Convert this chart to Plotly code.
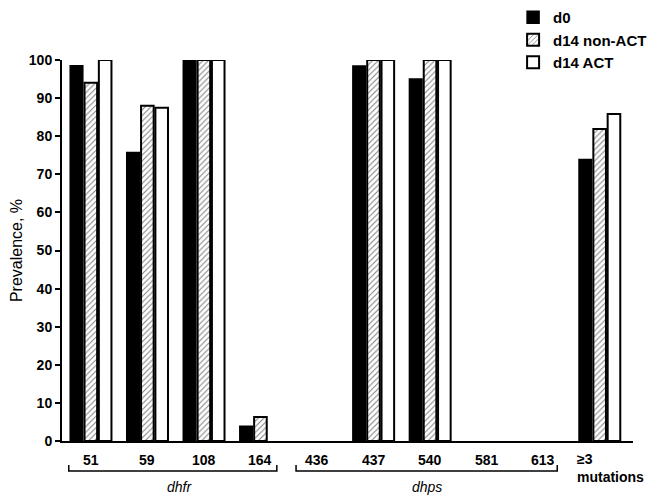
import plotly.graph_objects as go

categories = ["51", "59", "108", "164", "436", "437", "540", "581", "613", "≥3 mutations"]
tick_labels = ["51", "59", "108", "164", "436", "437", "540", "581", "613"]
d0 = [98.5, 75.7, 100, 3.9, 0, 98.4, 95.0, 0, 0, 73.9]
d14_non_act = [94.0, 88.0, 100, 6.3, 0, 100, 100, 0, 0, 81.9]
d14_act = [100, 87.5, 100, 0, 0, 100, 100, 0, 0, 85.8]

FONT = "Liberation Sans, Arial, sans-serif"
xs = list(range(len(categories)))


def outline(vals, w):
    # no outline on empty bars so they don't show up as flat lines
    return [w if v > 0 else 0 for v in vals]


fig = go.Figure()
fig.add_trace(go.Bar(
    x=xs, y=d0, name="<b>d0</b>",
    marker=dict(color="black", line=dict(color="black", width=outline(d0, 1.5))),
))
fig.add_trace(go.Bar(
    x=xs, y=d14_non_act, name="<b>d14 non-ACT</b>",
    marker=dict(color="white", line=dict(color="black", width=outline(d14_non_act, 2)),
                pattern=dict(shape="/", fgcolor="black", bgcolor="white", size=4, solidity=0.25)),
))
fig.add_trace(go.Bar(
    x=xs, y=d14_act, name="<b>d14 ACT</b>",
    marker=dict(color="white", line=dict(color="black", width=outline(d14_act, 2))),
))

# x labels under the axis
for i, t in enumerate(tick_labels):
    fig.add_annotation(x=i, y=-0.05, xref="x", yref="paper", text=f"<b>{t}</b>",
                       showarrow=False, yanchor="middle",
                       font=dict(family=FONT, size=14, color="black"))
fig.add_annotation(x=8.57, y=-0.072, xref="x", yref="paper", text="<b>≥3<br>mutations</b>",
                   showarrow=False, xanchor="left", yanchor="middle", align="left",
                   font=dict(family=FONT, size=14, color="black"))

# gene brackets
brackets = [(-0.39, 3.29, "dhfr"), (3.63, 8.25, "dhps")]
for x0, x1, gene in brackets:
    fig.add_shape(type="path", xref="x", yref="paper",
                  path=f"M {x0},-0.063 L {x0},-0.079 L {x1},-0.079 L {x1},-0.063",
                  line=dict(color="black", width=1.5))
    fig.add_annotation(x=(x0 + x1) / 2 + (0.12 if gene == "dhfr" else 0), y=-0.121,
                       xref="x", yref="paper", text=f"<i>{gene}</i>", showarrow=False,
                       yanchor="middle",
                       font=dict(family=FONT, size=14, color="black"))

# page body has an 8px margin, so the figure is a bit smaller than the window
fig.update_layout(
    width=653, height=490,
    barmode="group", bargap=0.24, bargroupgap=0.12,
    plot_bgcolor="white", paper_bgcolor="white",
    margin=dict(l=54, r=28, t=52, b=57, autoexpand=False),
    font=dict(family=FONT, size=14, color="black"),
    legend=dict(x=0.79, y=1.155, xanchor="left", yanchor="top", bgcolor="rgba(0,0,0,0)",
                font=dict(family=FONT, size=15, color="black"),
                tracegroupgap=3, itemwidth=30),
)
fig.update_xaxes(range=[-0.51, 9.59], showticklabels=False, ticks="",
                 showline=True, linecolor="black", linewidth=2, showgrid=False, zeroline=False)
fig.update_yaxes(range=[0, 100], dtick=10, ticks="outside", ticklen=5, tickwidth=2,
                 tickcolor="black", showline=True, linecolor="black", linewidth=2,
                 showgrid=False, zeroline=False, automargin=False,
                 tickfont=dict(family=FONT, size=14, weight="bold", color="black"),
                 title=dict(text="Prevalence, %", standoff=10,
                            font=dict(family=FONT, size=16, color="black")))

fig.write_html("out.html")
